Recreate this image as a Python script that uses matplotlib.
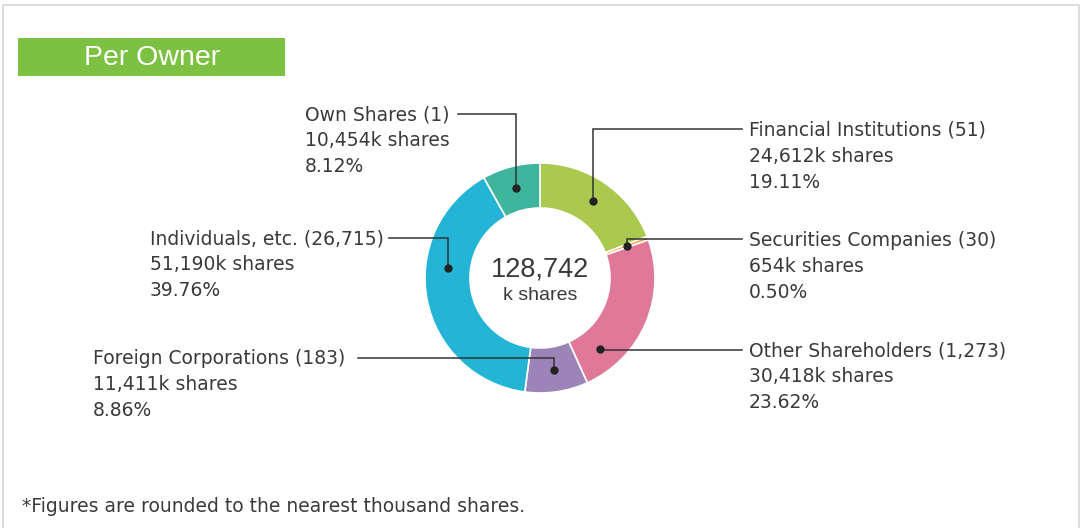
import matplotlib
matplotlib.use("Agg")
import matplotlib.pyplot as plt
import numpy as np

plt.rcParams['font.family'] = ['DejaVu Sans']

# data (clockwise from the top)
owners = ["Financial Institutions", "Securities Companies", "Other Shareholders",
          "Foreign Corporations", "Individuals, etc.", "Own Shares"]
holders = ["51", "30", "1,273", "183", "26,715", "1"]
shares_k = [24612, 654, 30418, 11411, 51190, 10454]
percents = ["19.11%", "0.50%", "23.62%", "8.86%", "39.76%", "8.12%"]
total_label = "128,742"
colors = ["#a9c94f", "#f3a04a", "#e0789a", "#9c84b9", "#24b5d6", "#40b59d"]

W, H = 1081, 528
cx, cy = 540, 278
r_out, r_in = 115, 70
txt = "#3a3a3a"


def fy(y):
    return H - y


fig = plt.figure(figsize=(W / 100, H / 100), dpi=100)
ax = fig.add_axes([0, 0, 1, 1])

# frame (open at bottom)
ax.plot([2.5, 2.5, 1078.5, 1078.5], [0, fy(4.5), fy(4.5), 0], color="#d6d6d6", lw=1.2)

# title box
ax.add_patch(plt.Rectangle((18, fy(76)), 267, 38, color="#7dc142", lw=0))
ax.text(152, fy(58), "Per Owner", color="white", fontsize=20.5,
        family="Liberation Sans", ha="center", va="center")

# donut
ax.pie(shares_k, colors=colors, startangle=90, counterclock=False,
       center=(cx, fy(cy)), radius=r_out,
       wedgeprops=dict(width=r_out - r_in, edgecolor="white", linewidth=1.2))
ax.set_xlim(0, W)
ax.set_ylim(0, H)
ax.set_aspect('auto')
ax.axis('off')

ax.text(cx, fy(270), total_label, fontsize=19.5, color=txt, family="Liberation Sans",
        ha="center", va="center")
ax.text(cx, fy(296), "k shares", fontsize=14, color=txt, family="Liberation Sans",
        ha="center", va="center")

# labels: text x, first line y, end of leader line, angle of the dot (deg clockwise from top)
label_x = [749, 749, 749, 93, 150, 305]
label_y = [129, 239, 350, 358, 238, 114]
line_end = [742, 742, 742, 358, 389, 458]
dot_angle = [34.4, 69.7, 140, 171.5, 276, 345]
r_dot = 93

for i in range(len(owners)):
    lines = [f"{owners[i]} ({holders[i]})",
             f"{shares_k[i]:,}k shares",
             percents[i]]
    for j, s in enumerate(lines):
        ax.text(label_x[i], fy(label_y[i] + 26 * j + 1), s, fontsize=13.5,
                color=txt, ha="left", va="center")
    a = np.deg2rad(dot_angle[i])
    dx = cx + r_dot * np.sin(a)
    dy = cy - r_dot * np.cos(a)
    ax.plot([dx, dx, line_end[i]], [fy(dy), fy(label_y[i]), fy(label_y[i])],
            color="#333333", lw=1.1, solid_joinstyle="miter")
    ax.plot(dx, fy(dy), "o", color="#222222", ms=5)

ax.text(22, fy(506), "*Figures are rounded to the nearest thousand shares.",
        fontsize=13.5, color=txt, ha="left", va="center")

fig.savefig("out.png", dpi=100)
